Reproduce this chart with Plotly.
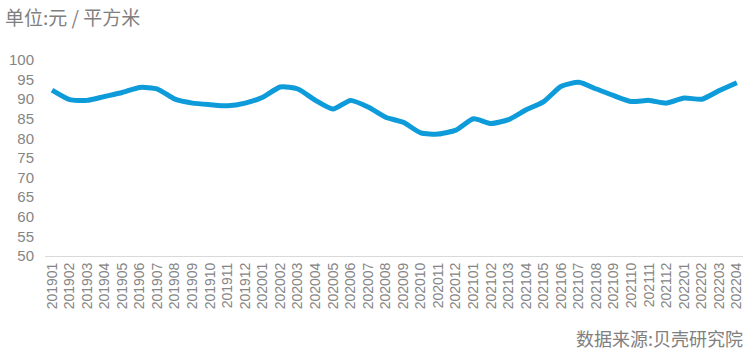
import plotly.graph_objects as go

months = ["201901","201902","201903","201904","201905","201906","201907","201908","201909","201910",
          "201911","201912","202001","202002","202003","202004","202005","202006","202007","202008",
          "202009","202010","202011","202012","202101","202102","202103","202104","202105","202106",
          "202107","202108","202109","202110","202111","202112","202201","202202","202203","202204"]
values = [92.3, 89.9, 89.7, 90.7, 91.7, 93.0, 92.6, 90.0, 89.0, 88.6,
          88.3, 89.0, 90.5, 93.1, 92.6, 89.7, 87.5, 89.7, 88.0, 85.4,
          84.1, 81.4, 81.1, 82.1, 85.0, 83.8, 84.8, 87.3, 89.4, 93.3,
          94.3, 92.6, 90.9, 89.4, 89.7, 89.0, 90.3, 90.0, 92.2, 94.2]
y_ticks = [50, 55, 60, 65, 70, 75, 80, 85, 90, 95, 100]

fig = go.Figure()
fig.add_trace(go.Scatter(
    x=months, y=values, mode="lines",
    line=dict(color="#0E9BD9", width=5, shape="spline", smoothing=0.6),
    hoverinfo="x+y", showlegend=False,
))

fig.update_layout(
    width=752, height=353,
    margin=dict(l=45, r=9, t=60, b=97),
    paper_bgcolor="white", plot_bgcolor="white",
    font=dict(family="Liberation Sans, Arial, sans-serif", color="#808080"),
    xaxis=dict(
        type="category", range=[-0.4, 39.35],
        showgrid=False, zeroline=False,
        showline=True, linecolor="#D9D9D9", linewidth=1,
        ticks="", tickangle=-90,
        tickfont=dict(size=14, color="#858585", family="Liberation Sans, Arial, sans-serif"),
    ),
    yaxis=dict(
        range=[50, 100], tickvals=y_ticks,
        showgrid=False, zeroline=False, showline=False,
        ticks="", ticklabelstandoff=10,
        tickfont=dict(size=15, color="#858585", family="Liberation Sans, Arial, sans-serif"),
    ),
    annotations=[
        dict(text="单位:元 / 平方米", xref="paper", yref="paper",
             x=-42/698, y=1 + 43/196, xanchor="left", yanchor="middle", showarrow=False,
             font=dict(size=19, color="#808080", family="Noto Sans CJK SC")),
        dict(text="数据来源:贝壳研究院", xref="paper", yref="paper",
             x=1 + 2/698, y=-82/196, xanchor="right", yanchor="middle", showarrow=False,
             font=dict(size=18, color="#808080", family="Noto Sans CJK SC")),
    ],
)

fig.write_html("out.html")
